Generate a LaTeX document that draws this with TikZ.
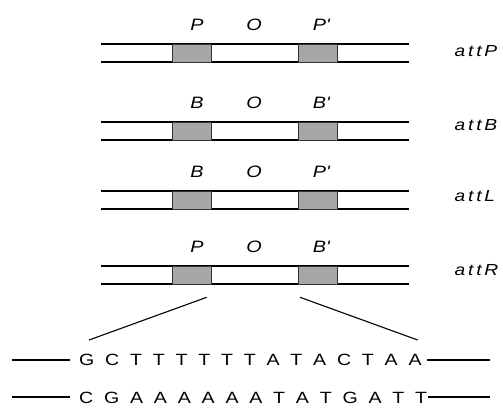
\documentclass[tikz,border=0pt]{standalone}
\usepackage{fontspec}
\setmainfont{Liberation Sans}[FakeStretch=1.2]
\newcommand\sqg{\kern10.8pt}
\newcommand\atg{\kern2.8pt}
\begin{document}
\begin{tikzpicture}[x=1pt,y=-1pt,
  dna/.style={line width=1.9pt},
  sitebox/.style={draw=black!80,line width=0.9pt,fill=black!35,minimum width=39pt,minimum height=18pt,inner sep=0pt},
  sitelbl/.style={anchor=base,inner sep=0pt,font=\fontsize{16.5}{17}\selectfont\itshape},
  attlbl/.style={anchor=base west,inner sep=0pt,font=\fontsize{16}{17}\selectfont\itshape},
  seq/.style={anchor=base west,inner sep=0pt,font=\fontsize{16.3}{17}\selectfont},
  zoomline/.style={line width=1.1pt}]
\useasboundingbox (0,0) rectangle (503,408);
% rows: top line y values
\foreach \r/\t/\a/\b in {1/44/P/P\textquotesingle, 2/122/B/B\textquotesingle, 3/191/B/P\textquotesingle, 4/266/P/B\textquotesingle}{
  \coordinate (r\r tl) at (101,\t);
  \coordinate (r\r tr) at (409,\t);
  \coordinate (r\r bl) at (101,\t+18);
  \coordinate (r\r br) at (409,\t+18);
  \draw[dna] (r\r tl) -- (r\r tr);
  \draw[dna] (r\r bl) -- (r\r br);
  \node[sitebox] (r\r L) at (191.5,\t+9) {};
  \node[sitebox] (r\r R) at (318,\t+9) {};
  \node[sitelbl] (r\r la) at (197,\t-14) {\a};
  \node[sitelbl] (r\r lo) at (254,\t-14) {O};
  \node[sitelbl] (r\r lb) at (321,\t-14) {\b};
}
\node[attlbl] (attP) at (454.5,56) {a\atg t\atg t\atg P};
\node[attlbl] (attB) at (454.5,130.5) {a\atg t\atg t\atg B};
\node[attlbl] (attL) at (454.5,201.5) {a\atg t\atg t\atg L};
\node[attlbl] (attR) at (454.5,275.5) {a\atg t\atg t\atg R};
% zoom lines
\coordinate (zl1) at (206.7,297.3);
\coordinate (zl2) at (89,340);
\coordinate (zr1) at (300,297.3);
\coordinate (zr2) at (417.7,340);
\draw[zoomline] (zl1) -- (zl2);
\draw[zoomline] (zr1) -- (zr2);
% sequences
\node[seq] (s1) at (79,365.7) {G\sqg C\sqg T\sqg T\sqg T\sqg T\sqg T\sqg T\sqg A\sqg T\sqg A\sqg C\sqg T\sqg A\sqg A};
\node[seq] (s2) at (79,403.3) {C\sqg G\sqg A\sqg A\sqg A\sqg A\sqg A\sqg A\sqg T\sqg A\sqg T\sqg G\sqg A\sqg T\sqg T};
\coordinate (s1l) at (11.7,360);
\coordinate (s1r) at (490,360);
\coordinate (s2l) at (11.7,396.7);
\coordinate (s2r) at (490,396.7);
\draw[dna] (s1l) -- ([xshift=-9pt]s1.west |- s1l);
\draw[dna] ([xshift=5pt]s1.east |- s1r) -- (s1r);
\draw[dna] (s2l) -- ([xshift=-9pt]s2.west |- s2l);
\draw[dna] ([xshift=1pt]s2.east |- s2r) -- (s2r);
\end{tikzpicture}
\end{document}
